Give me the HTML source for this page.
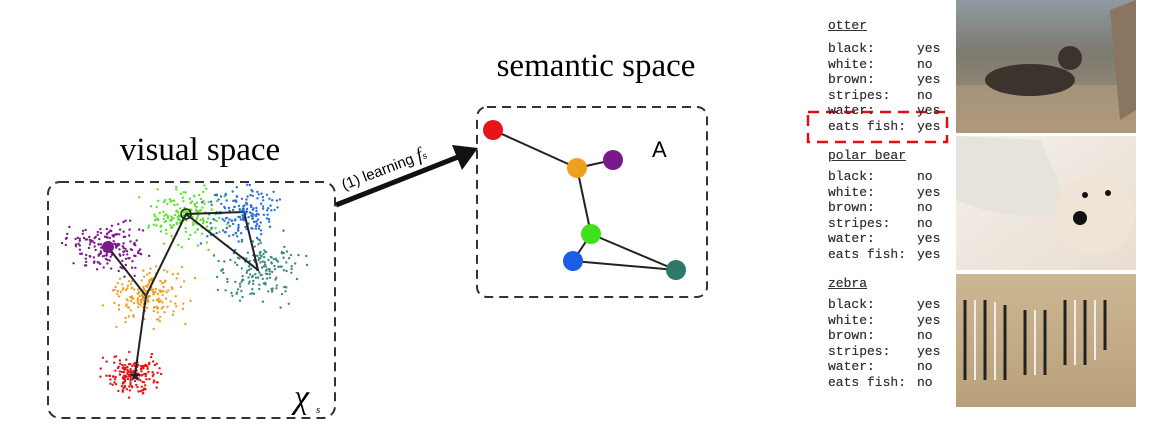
<!DOCTYPE html>
<html><head><meta charset="utf-8"><style>
body{margin:0;width:1150px;height:435px;background:#fff;overflow:hidden;position:relative}
.t{position:absolute;font-family:"Liberation Mono",monospace;font-size:13px;color:#333;white-space:pre;line-height:15.6px;text-shadow:0 0 .4px #333}
</style></head><body>
<svg id="s" width="1150" height="435" style="position:absolute;left:0;top:0">
<defs>
<linearGradient id="ot" x1="0" y1="0" x2="0" y2="1"><stop offset="0" stop-color="#8f9aa0"/><stop offset=".4" stop-color="#7d7a70"/><stop offset="1" stop-color="#a89478"/></linearGradient>
<linearGradient id="pb" x1="0" y1="0" x2="1" y2="1"><stop offset="0" stop-color="#f4f1ec"/><stop offset="1" stop-color="#e9ddd0"/></linearGradient>
<linearGradient id="zb" x1="0" y1="0" x2="0" y2="1"><stop offset="0" stop-color="#cdb792"/><stop offset="1" stop-color="#b8a07a"/></linearGradient>
</defs>
<text x="200" y="160" font-family="Liberation Serif,serif" font-size="33" text-anchor="middle">visual space</text>
<text x="596" y="76" font-family="Liberation Serif,serif" font-size="33" text-anchor="middle">semantic space</text>
<rect x="48" y="182" width="287" height="236" rx="12" fill="none" stroke="#333" stroke-width="2" stroke-dasharray="9,6"/>
<rect x="477" y="107" width="230" height="190" rx="10" fill="none" stroke="#333" stroke-width="2" stroke-dasharray="9,6"/>
<g id="dots"></g>
<g stroke="#222" stroke-width="2" fill="none">
<polyline points="108,247 146,296 186,214 244,212 258,270 186,214"/>
<line x1="146" y1="296" x2="135" y2="375"/>
</g>
<circle cx="108" cy="247" r="6" fill="#7a1a8a"/>
<circle cx="186" cy="214" r="5" fill="none" stroke="#222" stroke-width="1.5"/>
<text x="244" y="218" font-size="18" fill="#1e5fc0" text-anchor="middle" font-weight="bold">+</text>
<text x="135" y="381" font-size="16" fill="#222" text-anchor="middle">★</text>
<text x="146" y="302" font-size="14" fill="#a86a00" text-anchor="middle">☆</text>
<text x="294" y="408" font-family="Liberation Serif,serif" font-size="34" font-style="italic">χ</text>
<text x="316" y="413" font-family="Liberation Serif,serif" font-size="11" font-style="italic">s</text>
<line x1="336" y1="205" x2="458" y2="157" stroke="#111" stroke-width="5"/>
<polygon points="478,148 452,145 462,170" fill="#111"/>
<text x="344" y="190" font-family="Liberation Sans,sans-serif" font-size="15" transform="rotate(-21 344 190)">(1) learning <tspan font-family="Liberation Serif,serif" font-style="italic" font-size="19">f</tspan><tspan font-size="9" font-style="italic">s</tspan></text>
<g stroke="#222" stroke-width="2">
<line x1="493" y1="130" x2="577" y2="168"/><line x1="577" y1="168" x2="613" y2="160"/>
<line x1="577" y1="168" x2="591" y2="234"/><line x1="591" y1="234" x2="573" y2="261"/>
<line x1="573" y1="261" x2="676" y2="270"/><line x1="591" y1="234" x2="676" y2="270"/>
</g>
<circle cx="493" cy="130" r="10" fill="#e8141a"/>
<circle cx="577" cy="168" r="10" fill="#f0a020"/>
<circle cx="613" cy="160" r="10" fill="#7a1a8a"/>
<circle cx="591" cy="234" r="10" fill="#3ee020"/>
<circle cx="573" cy="261" r="10" fill="#1a5ee8"/>
<circle cx="676" cy="270" r="10" fill="#2e7a6a"/>
<text x="652" y="157" font-family="Liberation Sans,sans-serif" font-size="22">A</text>
<rect x="956" y="0" width="180" height="133" fill="url(#ot)"/>
<rect x="956" y="85" width="180" height="48" fill="#b49d80" opacity=".6"/>
<path d="M1110 10 L1136 0 L1136 110 L1120 120 Z" fill="#8a7560"/>
<ellipse cx="1030" cy="80" rx="45" ry="16" fill="#3b342d"/><circle cx="1070" cy="58" r="12" fill="#3b342d"/>
<rect x="956" y="136" width="180" height="134" fill="url(#pb)"/>
<path d="M956 136 L1040 140 Q1070 200 1060 215 Q1000 220 956 200 Z" fill="#e6e3dc"/>
<circle cx="1095" cy="215" r="40" fill="#efe4d6"/>
<circle cx="1080" cy="218" r="7" fill="#111"/><circle cx="1108" cy="193" r="3" fill="#111"/><circle cx="1085" cy="195" r="3" fill="#111"/>
<rect x="956" y="274" width="180" height="133" fill="url(#zb)"/>
<g stroke="#222" stroke-width="3"><line x1="965" y1="300" x2="965" y2="380"/><line x1="985" y1="300" x2="985" y2="380"/><line x1="1005" y1="305" x2="1005" y2="380"/><line x1="1025" y1="310" x2="1025" y2="375"/><line x1="1045" y1="310" x2="1045" y2="375"/><line x1="1065" y1="300" x2="1065" y2="365"/><line x1="1085" y1="300" x2="1085" y2="365"/><line x1="1105" y1="300" x2="1105" y2="350"/></g>
<g stroke="#eee" stroke-width="2"><line x1="975" y1="300" x2="975" y2="380"/><line x1="995" y1="302" x2="995" y2="380"/><line x1="1035" y1="310" x2="1035" y2="375"/><line x1="1075" y1="300" x2="1075" y2="365"/><line x1="1095" y1="300" x2="1095" y2="360"/></g>
<rect x="808" y="112" width="139" height="30" fill="none" stroke="#e01010" stroke-width="2.5" stroke-dasharray="11,7"/>
</svg>
<div class="t" style="left:828px;top:18px;text-decoration:underline">otter</div>
<div class="t" style="left:828px;top:41px">black:
white:
brown:
stripes:
water:
eats fish:</div>
<div class="t" style="left:917px;top:41px">yes
no
yes
no
yes
yes</div>
<div class="t" style="left:828px;top:148px;text-decoration:underline">polar bear</div>
<div class="t" style="left:828px;top:169px">black:
white:
brown:
stripes:
water:
eats fish:</div>
<div class="t" style="left:917px;top:169px">no
yes
no
no
yes
yes</div>
<div class="t" style="left:828px;top:276px;text-decoration:underline">zebra</div>
<div class="t" style="left:828px;top:297px">black:
white:
brown:
stripes:
water:
eats fish:</div>
<div class="t" style="left:917px;top:297px">yes
yes
no
yes
no
no</div>
<script>
var g=document.getElementById('dots'),s=1;function r(){s=(s*16807)%2147483647;return s/2147483647}
function n(){return (r()+r()+r()-1.5)}
var C=[[108,247,'#7a1a8a',26],[146,296,'#f0a020',26],[135,375,'#e01818',18],[186,214,'#5ee030',26],[244,212,'#2a70d8',26],[258,270,'#3e8a80',28]];
var h='';C.forEach(function(c){for(var i=0;i<170;i++){h+='<circle cx="'+(c[0]+n()*c[3]*1.4).toFixed(1)+'" cy="'+(c[1]+n()*c[3]).toFixed(1)+'" r="1.2" fill="'+c[2]+'"/>'}});
g.innerHTML=h;
</script>
</body></html>
